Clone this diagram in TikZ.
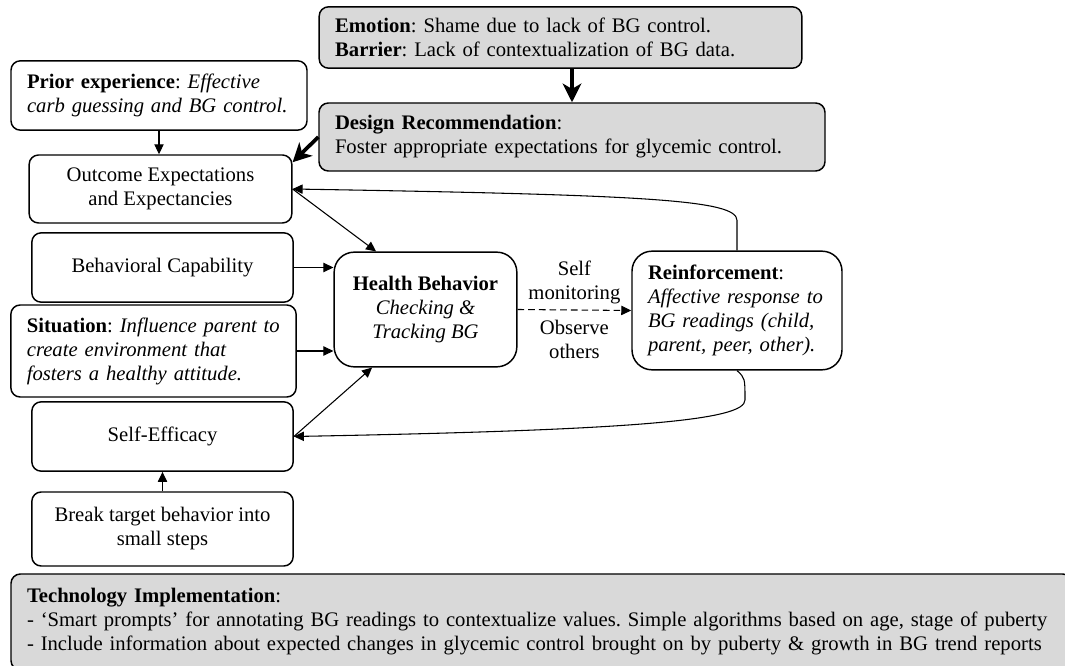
\documentclass[tikz,border=0pt]{standalone}
\usepackage{fontspec}
\setmainfont{Liberation Serif}
\usetikzlibrary{positioning}
\usetikzlibrary{calc}
\usetikzlibrary{arrows.meta}

\begin{document}
\frenchspacing
\begin{tikzpicture}[
    x=0.75pt, y=-0.75pt,
    >={Triangle[length=7.5pt, width=7pt]},
    line width=0.8pt,
    font=\fontsize{15.5}{18}\selectfont
]
\tikzstyle{box}=[draw, rounded corners=7pt, line width=1.1pt, align=center, inner sep=0pt]
\tikzstyle{textbox}=[box, align=left, inner xsep=12pt]
\tikzstyle{greybox}=[textbox, fill=black!15]
\tikzstyle{bigarrow}=[-{Stealth[length=14pt, width=14pt, inset=4pt]}, line width=2.8pt]

\useasboundingbox (0,0) rectangle (1065,666);
\clip (0,0) rectangle (1065,666);

% Barrier and design recommendation
\node[greybox, text width=338pt, minimum height=46pt] (emotion) at (560.5,37.5)
    {\textbf{Emotion}: Shame due to lack of BG control.\\ \textbf{Barrier}: Lack of contextualization of BG data.};
\node[greybox, text width=355.5pt, minimum height=51pt] (design) at (572,137)
    {\textbf{Design Recommendation}:\\ Foster appropriate expectations for glycemic control.};

% Determinants
\node[textbox, text width=198pt, minimum height=52pt] (prior) at (159,95.5)
    {\textbf{Prior experience}: \textit{Effective}\\ \textit{carb guessing and BG control.}};
\node[box, minimum width=197pt, minimum height=51pt] (outcome) at (160.5,189)
    {Outcome Expectations\\ and Expectancies};
\node[box, minimum width=196pt, minimum height=52pt] (capability) at (162.5,267.5)
    {Behavioral Capability};
\node[textbox, text width=190pt, minimum height=69pt] (situation) at (153.5,351)
    {\textbf{Situation}: \textit{Influence parent to}\\ \textit{create environment that}\\ \textit{fosters a healthy attitude.}};
\node[box, minimum width=196pt, minimum height=52pt] (efficacy) at (162.5,436.5)
    {Self-Efficacy};
\node[box, minimum width=196pt, minimum height=55.5pt] (steps) at (162.5,529)
    {Break target behavior into\\ small steps};

% Behavior and reinforcement
\node[box, rounded corners=15pt, minimum width=137pt, minimum height=86pt] (behavior) at (425.5,309.5)
    {\textbf{Health Behavior}\\ \textit{Checking \&}\\ \textit{Tracking BG}};
\node[textbox, rounded corners=15pt, text width=133.5pt, minimum height=89pt] (reinforcement) at (737,310.5)
    {\textbf{Reinforcement}:\\ \textit{Affective response to}\\ \textit{BG readings (child,}\\ \textit{parent, peer, other).}};

% Technology
\node[greybox, text width=771.75pt, minimum height=72pt] (technology) at (541.5,622)
    {\textbf{Technology Implementation}:\\
     - `Smart prompts' for annotating BG readings to contextualize values. Simple algorithms based on age, stage of puberty\\
     - Include information about expected changes in glycemic control brought on by puberty \& growth in BG trend reports};

% Connections
\draw[bigarrow] (emotion.south -| design.north) -- (design.north);
\draw[bigarrow] (design.west) -- ([yshift=-6pt]outcome.north east);
\draw[->] (prior.south) -- (prior.south |- outcome.north);

\draw[->] (outcome.east) -- ([xshift=32pt]behavior.north west);
\draw[->] (capability.east) -- (behavior.west |- capability.east);
\draw[->] (situation.east) -- (behavior.west |- situation.east);
\draw[->] (efficacy.east) -- ([xshift=29pt]behavior.south west);
\draw[->] (steps.north) -- (efficacy.south);

\draw[->, dash pattern=on 5pt off 3pt] (behavior.east) --
    node[above=1pt, align=center, name=selfmon] {Self\\ monitoring}
    node[below=4pt, align=center, name=observe] {Observe\\ others} (reinforcement.west);

\draw[->] (reinforcement.north) -- ++(0,-30) .. controls (737,200) and (650,195) .. (outcome.east);
\draw[->] (reinforcement.south) .. controls (745,378) .. (745,400)
    .. controls (745,420) and (640,430) .. (efficacy.east);

\end{tikzpicture}
\end{document}
